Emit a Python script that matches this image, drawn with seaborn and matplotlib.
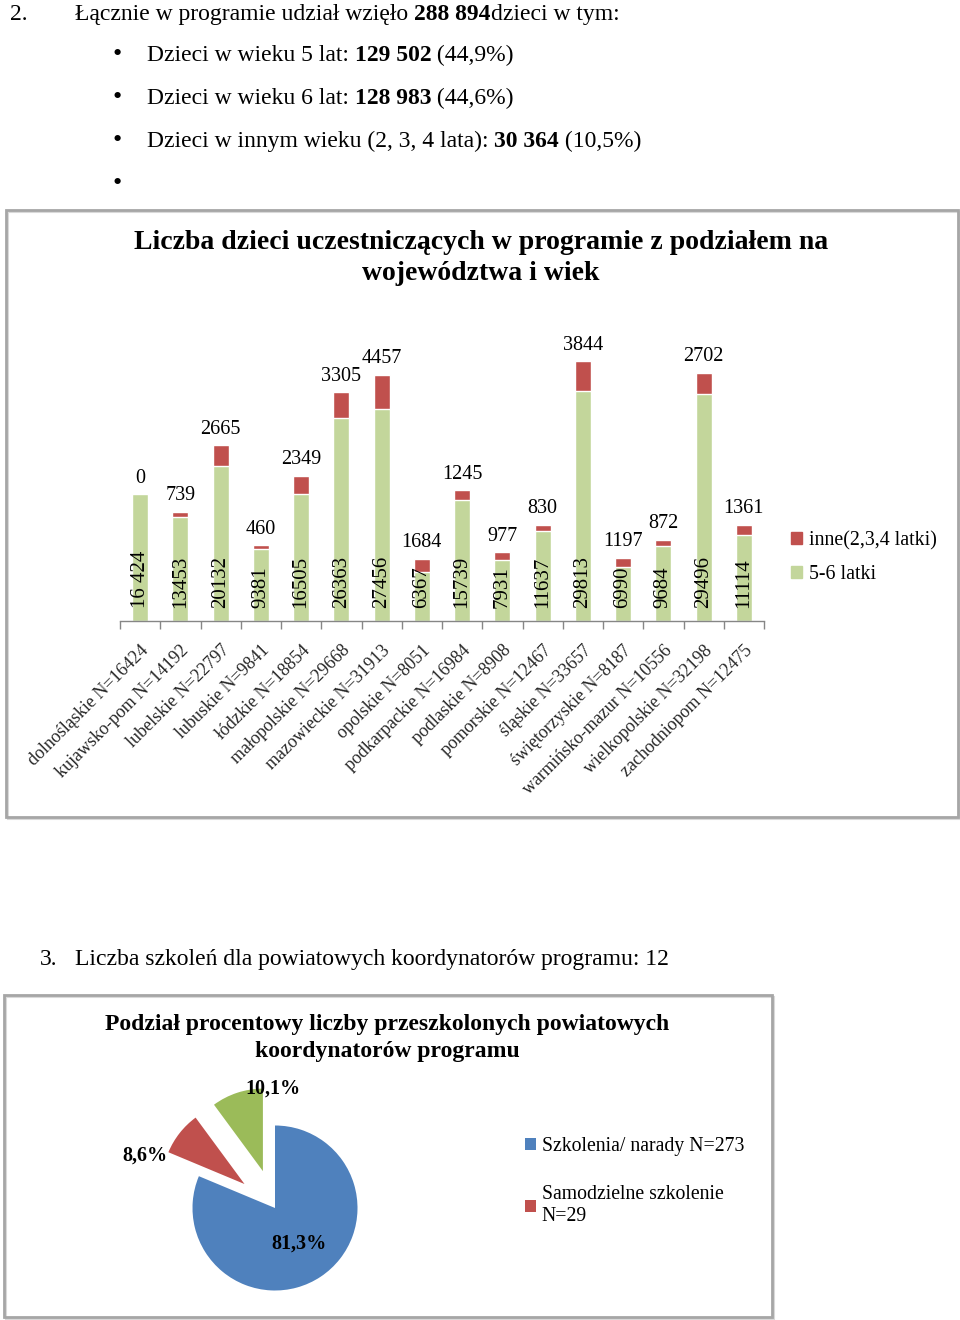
import numpy as np
import pandas as pd
import matplotlib
matplotlib.use("Agg")
import matplotlib.pyplot as plt
import seaborn as sns
from matplotlib.patches import Rectangle, Patch

# ---------------- data ----------------
regions = ["dolnośląskie N=16424", "kujawsko-pom N=14192", "lubelskie N=22797",
           "lubuskie N=9841", "łódzkie N=18854", "małopolskie N=29668",
           "mazowieckie N=31913", "opolskie N=8051", "podkarpackie N=16984",
           "podlaskie N=8908", "pomorskie N=12467", "śląskie N=33657",
           "świętorzyskie N=8187", "warmińsko-mazur N=10556",
           "wielkopolskie N=32198", "zachodniopom N=12475"]
kids_5_6 = [16424, 13453, 20132, 9381, 16505, 26363, 27456, 6367,
            15739, 7931, 11637, 29813, 6990, 9684, 29496, 11114]
kids_other = [0, 739, 2665, 460, 2349, 3305, 4457, 1684,
              1245, 977, 830, 3844, 1197, 872, 2702, 1361]
green_label_text = ["16 424", "13453", "20132", "9381", "16505", "26363", "27456",
                    "6367", "15739", "7931", "11637", "29813", "6990", "9684",
                    "29496", "11114"]
bar_legend = ["inne(2,3,4 latki)", "5-6 latki"]

pie_names = ["Szkolenia/ narady N=273", "Samodzielne szkolenie\nN=29", "inne"]
pie_shares = [81.3, 8.6, 10.1]

# ---------------- style ----------------
sns.set_theme(style="white")
plt.rcParams["font.family"] = ["Liberation Serif", "DejaVu Serif"]
plt.rcParams["text.color"] = "black"

W, H = 960, 1320
fig = plt.figure(figsize=(9.6, 13.2), dpi=100)
fig.patch.set_facecolor("white")

BAR_GREEN = "#C3D69B"
BAR_RED = "#C0504D"
PIE_COLORS = ["#4F81BD", "#C0504D", "#9BBB59"]
BORDER = "#A6A6A6"

renderer = fig.canvas.get_renderer()


def fx(x):
    return x / W


def fy(y):
    return 1 - y / H


def runs(x_px, y_px, parts, size=15):
    x = x_px
    for txt, w in parts:
        t = fig.text(fx(x), fy(y_px), txt, fontsize=size, fontweight=w,
                     ha="left", va="baseline")
        bb = t.get_window_extent(renderer=renderer)
        x += bb.width


def box(x0, y0, x1, y1):
    fig.patches.append(Rectangle((fx(x0 + 2), fy(y1 + 2)), (x1 - x0) / W, (y1 - y0) / H,
                                 transform=fig.transFigure, fill=False,
                                 edgecolor="#D9D9D9", lw=1.5, zorder=0))
    fig.patches.append(Rectangle((fx(x0), fy(y1)), (x1 - x0) / W, (y1 - y0) / H,
                                 transform=fig.transFigure, fill=False,
                                 edgecolor=BORDER, lw=2, zorder=1))


# ---------------- page text ----------------
BS = 17
runs(10, 20, [("2.", "normal")], BS)
runs(75, 20, [("Łącznie w programie udział wzięło ", "normal"), ("288 894", "bold"),
              ("dzieci w tym:", "normal")], BS)
bullets = [
    [("Dzieci w wieku 5 lat: ", "normal"), ("129 502", "bold"), (" (44,9%)", "normal")],
    [("Dzieci w wieku 6 lat: ", "normal"), ("128 983", "bold"), (" (44,6%)", "normal")],
    [("Dzieci w innym wieku (2, 3, 4 lata): ", "normal"), ("30 364", "bold"), (" (10,5%)", "normal")],
    [],
]
for k, parts in enumerate(bullets):
    yb = 61 + k * 43
    fig.text(fx(117), fy(yb), "•", fontsize=BS + 2, ha="center", va="baseline")
    if parts:
        runs(147, yb, parts, BS)

runs(40, 965, [("3.", "normal")], BS)
runs(75, 965, [("Liczba szkoleń dla powiatowych koordynatorów programu: 12", "normal")], BS)

# ---------------- bar chart ----------------
box(6, 210, 958, 817)
fig.text(fx(481), fy(258), "Liczba dzieci uczestniczących w programie z podziałem na\n"
         "województwa i wiek", ha="center", va="center", fontsize=20,
         fontweight="bold", linespacing=1.32)

ax = fig.add_axes([fx(120), fy(621), 644 / W, 293 / H])
df = pd.DataFrame({"woj": regions, "g": kids_5_6, "o": kids_other})
df["total"] = df["g"] + df["o"]
sns.barplot(data=df, x="woj", y="total", color=BAR_RED, saturation=1,
            width=0.4, errorbar=None, ax=ax)
sns.barplot(data=df, x="woj", y="g", color=BAR_GREEN, saturation=1,
            width=0.4, errorbar=None, ax=ax)
ax.set_ylim(0, 38000)
ax.set_xlim(-0.5, len(regions) - 0.5)
ax.set_xlabel("")
ax.set_ylabel("")
ax.set_yticks([])
for s in ["top", "right", "left"]:
    ax.spines[s].set_visible(False)
ax.spines["bottom"].set_color("#868686")
ax.spines["bottom"].set_linewidth(1)
ax.set_xticks(range(len(regions)))
ax.set_xticklabels(regions, rotation=45, ha="right", va="top",
                   rotation_mode="anchor", fontsize=13)
ax.tick_params(axis="x", which="major", length=0, pad=15)
ax.set_xticks(np.arange(-0.5, len(regions)), minor=True)
ax.tick_params(axis="x", which="minor", length=6, width=1, color="#868686",
               direction="out", bottom=True)
ax.patch.set_alpha(0)

for i, row in df.iterrows():
    ax.annotate(green_label_text[i], (i, 0), xytext=(0, 13), textcoords="offset pixels",
                rotation=90, ha="center", va="bottom", fontsize=15)
    ax.annotate(str(row["o"]), (i, row["total"]), xytext=(0, 16),
                textcoords="offset pixels", ha="center", va="center", fontsize=14.5)

fig.legend(handles=[Patch(color=BAR_RED), Patch(color=BAR_GREEN)], labels=bar_legend,
           loc="upper left", bbox_to_anchor=(fx(781), fy(521)), frameon=False,
           fontsize=14.3, handlelength=0.55, handleheight=0.55, handletextpad=0.35,
           labelspacing=0.75, borderpad=0)

# ---------------- pie chart ----------------
box(4, 995, 772, 1317)
fig.text(fx(387), fy(1038), "Podział procentowy liczby przeszkolonych powiatowych\n"
         "koordynatorów programu", ha="center", va="center", fontsize=17,
         fontweight="bold", linespacing=1.35)

R = 82.5
L = 1.6
cx, cy = 275, 1208
pax = fig.add_axes([fx(cx - L * R), fy(cy + L * R), 2 * L * R / W, 2 * L * R / H])
wedges, texts, autotexts = pax.pie(
    pie_shares, explode=[0, 0.47, 0.47], colors=PIE_COLORS, startangle=90,
    counterclock=False, autopct=lambda p: f"{p:.1f}%".replace(".", ","),
    pctdistance=0.52, wedgeprops=dict(linewidth=0),
    textprops=dict(fontsize=14.5, fontweight="bold", color="black"))
autotexts[1].set_position((-1.58, 0.63))
autotexts[2].set_position((-0.02, 1.45))
pax.set_xlim(-L, L)
pax.set_ylim(-L, L)
pax.set_aspect("equal")
pax.axis("off")

fig.legend(handles=wedges[:2], labels=pie_names[:2], loc="upper left",
           bbox_to_anchor=(fx(515), fy(1127)), frameon=False, fontsize=14.2,
           handlelength=0.55, handleheight=0.55, handletextpad=0.3,
           labelspacing=1.5, borderpad=0)

fig.savefig("out.png", dpi=100, facecolor="white")
